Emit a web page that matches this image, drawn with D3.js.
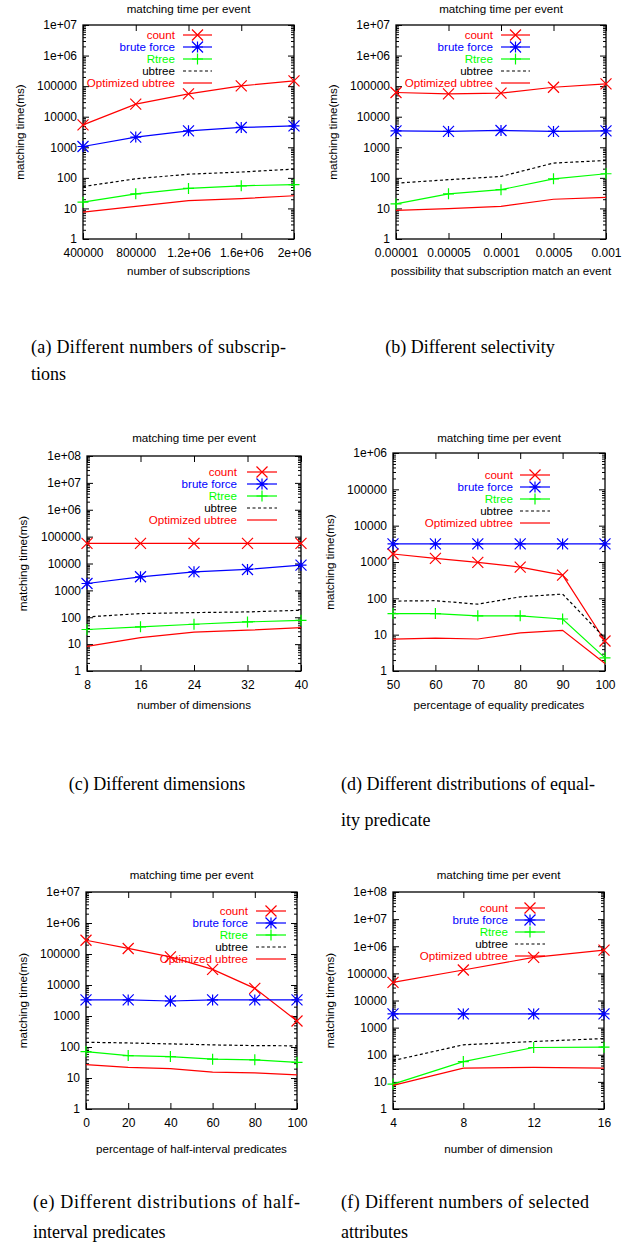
<!DOCTYPE html>
<html lang="en">
<head>
  <meta charset="UTF-8">
  <title>matching time per event</title>
  <style>
    body { margin: 0; background: #fff; }
    svg { display: block; }
    .axis text { font-family: "Liberation Sans", Arial, sans-serif; font-size: 12px; fill: #000; }
    .lbl { font-family: "Liberation Sans", Arial, sans-serif; font-size: 11.6px; fill: #000; }
    .cap { font-family: "Liberation Serif", "Times New Roman", serif; font-size: 18px; fill: #000; }
  </style>
</head>
<body>
  <svg id="fig" width="638" height="1247"></svg>

  <script src="https://d3js.org/d3.v7.min.js"></script>
  <script>
    // series names, same order in every panel
    const seriesNames = ['count', 'brute force', 'Rtree', 'ubtree', 'Optimized ubtree']
    const yTickLabels = ['1', '10', '100', '1000', '10000', '100000', '1e+06', '1e+07', '1e+08']

    // (a) number of subscriptions
    const aX = [400000, 800000, 1200000, 1600000, 2000000]
    const aXLabels = ['400000', '800000', '1.2e+06', '1.6e+06', '2e+06']
    const aCount = [5400, 25700, 56000, 102000, 148000]
    const aBrute = [1060, 2150, 3450, 4450, 5000]
    const aRtree = [16, 30, 45, 55, 60]
    const aUbtree = [52, 93, 132, 155, 194]
    const aOpt = [7.6, 11.7, 18, 21, 26]

    // (b) selectivity
    const bX = ['0.00001', '0.00005', '0.0001', '0.0005', '0.001']
    const bCount = [62000, 56000, 59000, 92000, 118000]
    const bBrute = [3450, 3300, 3550, 3300, 3450]
    const bRtree = [14, 30, 41, 93, 136]
    const bUbtree = [67, 87, 111, 305, 370]
    const bOpt = [8.6, 9.8, 11.7, 20, 23]

    // (c) dimensions
    const cX = [8, 16, 24, 32, 40]
    const cCount = [56000, 56000, 56000, 56000, 56000]
    const cBrute = [1800, 3200, 4900, 6000, 8700]
    const cRtree = [35, 44, 55, 67, 77]
    const cUbtree = [103, 137, 149, 158, 182]
    const cOpt = [8.3, 17.5, 28, 33, 41]

    // (d) equality predicates
    const dX = [50, 60, 70, 80, 90, 100]
    const dCount = [1660, 1260, 980, 725, 437, 6.7]
    const dBrute = [3150, 3150, 3150, 3150, 3150, 3150]
    const dRtree = [38, 38, 33, 33, 27, 2.3]
    const dUbtree = [84, 86, 69, 110, 131, 8]
    const dOpt = [7.5, 8, 7.6, 11.2, 13.2, 1.6]

    // (e) half-interval predicates
    const eX = [0, 20, 40, 60, 80, 100]
    const eCount = [277000, 151000, 81000, 32000, 7800, 690]
    const eBrute = [3300, 3300, 3050, 3300, 3300, 3300]
    const eRtree = [71, 53, 49, 40.5, 38.6, 32]
    const eUbtree = [142, 135, 126, 117, 111, 109]
    const eOpt = [27, 22, 20, 15.5, 14.7, 12.7]

    // (f) selected attributes
    const fX = [4, 8, 12, 16]
    const fCount = [46500, 133000, 388000, 720000]
    const fBrute = [3200, 3200, 3200, 3200]
    const fRtree = [8.3, 56, 185, 190]
    const fUbtree = [61, 232, 308, 395]
    const fOpt = [7.4, 32, 34, 32]

    const colors = ['#ff0000', '#0000ff', '#00ff00', '#000000', '#ff0000']
    const markers = ['cross', 'star', 'plus', null, null]

    // panel layout (plot box = left, top, right, bottom)
    const panels = [
      { x: aX, xLabels: aXLabels, ys: [aCount, aBrute, aRtree, aUbtree, aOpt], yMax: 7,
        box: [83, 25, 294, 239], titleY: 13, xLabel: 'number of subscriptions', xLabelY: 275,
        yLabelX: 24, legend: [175, 183, 212, 35] },
      { x: bX, point: true, ys: [bCount, bBrute, bRtree, bUbtree, bOpt], yMax: 7,
        box: [396, 25, 606, 239], titleY: 13, xLabel: 'possibility that subscription match an event', xLabelY: 275,
        yLabelX: 337, legend: [493, 501, 530, 35] },
      { x: cX, ys: [cCount, cBrute, cRtree, cUbtree, cOpt], yMax: 8,
        box: [87, 456, 301, 671], titleY: 442, xLabel: 'number of dimensions', xLabelY: 709,
        yLabelX: 27, legend: [237, 247, 277, 472] },
      { x: dX, ys: [dCount, dBrute, dRtree, dUbtree, dOpt], yMax: 6,
        box: [393, 453, 605, 671], titleY: 442, xLabel: 'percentage of equality predicates', xLabelY: 709,
        yLabelX: 334, legend: [513, 520, 550, 475] },
      { x: eX, ys: [eCount, eBrute, eRtree, eUbtree, eOpt], yMax: 7,
        box: [86, 892, 297, 1109], titleY: 879, xLabel: 'percentage of half-interval predicates', xLabelY: 1153,
        yLabelX: 27, legend: [248, 256, 286, 911] },
      { x: fX, ys: [fCount, fBrute, fRtree, fUbtree, fOpt], yMax: 8,
        box: [393, 892, 604, 1109], titleY: 879, xLabel: 'number of dimension', xLabelY: 1153,
        yLabelX: 334, legend: [508, 515, 545, 908] }
    ]

    const captions = [
      { text: '(a) Different numbers of subscrip-', x: 31, y: 353, len: 255 },
      { text: 'tions', x: 31, y: 380 },
      { text: '(b) Different selectivity', x: 470, y: 353, mid: true },
      { text: '(c) Different dimensions', x: 157, y: 790, mid: true },
      { text: '(d) Different distributions of equal-', x: 341, y: 790, len: 254 },
      { text: 'ity predicate', x: 341, y: 826 },
      { text: '(e) Different distributions of half-', x: 33, y: 1208, len: 267 },
      { text: 'interval predicates', x: 33, y: 1238 },
      { text: '(f) Different numbers of selected', x: 341, y: 1208, len: 248 },
      { text: 'attributes', x: 341, y: 1238 }
    ]

    const svg = d3.select('#fig')

    function drawMarker(g, type, cx, cy, color) {
      const r = 5.5
      let d = ''
      if (type === 'cross' || type === 'star') {
        d += `M${cx - r},${cy - r}L${cx + r},${cy + r}M${cx - r},${cy + r}L${cx + r},${cy - r}`
      }
      if (type === 'plus' || type === 'star') {
        d += `M${cx - r},${cy}L${cx + r},${cy}M${cx},${cy - r}L${cx},${cy + r}`
      }
      g.append('path').attr('d', d).attr('stroke', color).attr('stroke-width', 1.2).attr('fill', 'none')
    }

    panels.forEach(p => {
      const [left, top, right, bottom] = p.box
      const g = svg.append('g')

      let x
      if (p.point) {
        x = d3.scalePoint().domain(p.x).range([left, right])
      } else {
        x = d3.scaleLinear().domain(d3.extent(p.x)).range([left, right])
      }
      const y = d3.scaleLog().domain([1, Math.pow(10, p.yMax)]).range([bottom, top])

      const majors = d3.range(0, p.yMax + 1).map(k => Math.pow(10, k))
      const minors = []
      for (let k = 0; k < p.yMax; k++) {
        for (let m = 2; m <= 9; m++) minors.push(m * Math.pow(10, k))
      }

      // y axis, labels on the left, mirrored ticks on the right
      g.append('g').attr('class', 'axis').attr('transform', `translate(${left},0)`)
        .call(d3.axisLeft(y).tickValues(majors).tickFormat((d, i) => yTickLabels[i]).tickSize(-6).tickPadding(6))
      g.append('g').attr('class', 'axis').attr('transform', `translate(${left},0)`)
        .call(d3.axisLeft(y).tickValues(minors).tickFormat('').tickSize(-3))
      g.append('g').attr('class', 'axis').attr('transform', `translate(${right},0)`)
        .call(d3.axisRight(y).tickValues(majors).tickFormat('').tickSize(-6))
      g.append('g').attr('class', 'axis').attr('transform', `translate(${right},0)`)
        .call(d3.axisRight(y).tickValues(minors).tickFormat('').tickSize(-3))

      // x axis
      const xb = d3.axisBottom(x).tickSize(-6).tickPadding(9).tickValues(p.x)
      const xt = d3.axisTop(x).tickSize(-6).tickFormat('').tickValues(p.x)
      if (!p.point) xb.tickFormat((d, i) => p.xLabels ? p.xLabels[i] : String(d))
      g.append('g').attr('class', 'axis').attr('transform', `translate(0,${bottom})`).call(xb)
      g.append('g').attr('class', 'axis').attr('transform', `translate(0,${top})`).call(xt)

      g.selectAll('.axis .domain').remove()
      g.selectAll('.axis line').attr('stroke', '#000').attr('stroke-width', 1)
      g.selectAll('.axis').attr('font-family', null).attr('font-size', null)

      // frame
      g.append('rect').attr('x', left).attr('y', top).attr('width', right - left).attr('height', bottom - top)
        .attr('fill', 'none').attr('stroke', '#000').attr('stroke-width', 1.3)

      // title and axis labels
      g.append('text').attr('class', 'lbl').attr('x', (left + right) / 2).attr('y', p.titleY)
        .attr('text-anchor', 'middle').text('matching time per event')
      g.append('text').attr('class', 'lbl').attr('x', (left + right) / 2).attr('y', p.xLabelY)
        .attr('text-anchor', 'middle').text(p.xLabel)
      g.append('text').attr('class', 'lbl')
        .attr('transform', `translate(${p.yLabelX},${(top + bottom) / 2}) rotate(-90)`)
        .attr('text-anchor', 'middle').text('matching time(ms)')

      const [tRight, s1, s2, ly] = p.legend

      p.ys.forEach((vals, si) => {
        const pts = vals.map((v, i) => [x(p.x[i]), y(v)])
        const path = g.append('path').attr('d', d3.line()(pts)).attr('fill', 'none')
          .attr('stroke', colors[si]).attr('stroke-width', 1.2)
        if (si === 3) path.attr('stroke-dasharray', '3,2.5')
        if (markers[si]) pts.forEach(pt => drawMarker(g, markers[si], pt[0], pt[1], colors[si]))

        // legend entry
        const yy = ly + si * 12
        g.append('text').attr('class', 'lbl').attr('x', tRight).attr('y', yy).attr('dy', '0.35em')
          .attr('text-anchor', 'end').style('fill', colors[si]).text(seriesNames[si])
        const sample = g.append('line').attr('x1', s1).attr('x2', s2).attr('y1', yy).attr('y2', yy)
          .attr('stroke', colors[si]).attr('stroke-width', 1.2)
        if (si === 3) sample.attr('stroke-dasharray', '3,2.5')
        if (markers[si]) drawMarker(g, markers[si], (s1 + s2) / 2, yy, colors[si])
      })
    })

    captions.forEach(c => {
      const t = svg.append('text').attr('class', 'cap').attr('x', c.x).attr('y', c.y).text(c.text)
      if (c.mid) t.attr('text-anchor', 'middle')
      if (c.len) t.attr('textLength', c.len).attr('lengthAdjust', 'spacing')
    })
  </script>
</body>
</html>
